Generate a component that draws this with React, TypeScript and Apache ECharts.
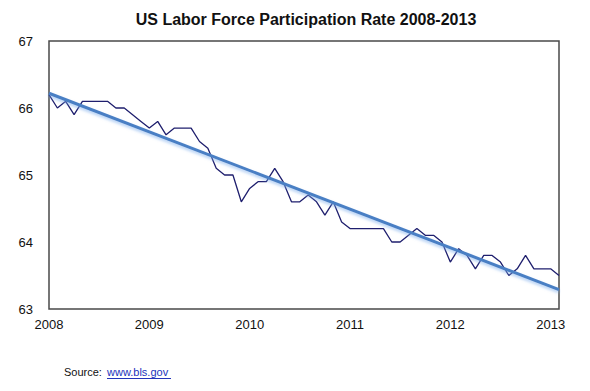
import React, { useEffect, useRef } from "react";
import * as echarts from "echarts";

const TITLE = "US Labor Force Participation Rate 2008-2013";
const START_YEAR = 2008;
// Monthly values, Jan 2008 .. Feb 2013 (month index 0..61)
const rateValues = [
  66.2, 66.0, 66.1, 65.9, 66.1, 66.1, 66.1, 66.1, 66.0, 66.0, 65.9, 65.8,
  65.7, 65.8, 65.6, 65.7, 65.7, 65.7, 65.5, 65.4, 65.1, 65.0, 65.0, 64.6,
  64.8, 64.9, 64.9, 65.1, 64.9, 64.6, 64.6, 64.7, 64.6, 64.4, 64.6, 64.3,
  64.2, 64.2, 64.2, 64.2, 64.2, 64.0, 64.0, 64.1, 64.2, 64.1, 64.1, 64.0,
  63.7, 63.9, 63.8, 63.6, 63.8, 63.8, 63.7, 63.5, 63.6, 63.8, 63.6, 63.6,
  63.6, 63.5,
];
// Trend line end points (month index, value)
const trendIndex = [0, 61];
const trendValues = [66.22, 63.29];
const yTicks = [63, 64, 65, 66, 67];

const FONT = "'Liberation Sans', Arial, Helvetica, sans-serif";

export default function App() {
  const ref = useRef<HTMLDivElement>(null);
  useEffect(() => {
    if (!ref.current) return;
    const chart = echarts.init(ref.current, undefined, { renderer: "svg" });
    chart.setOption({
      animation: false,
      backgroundColor: "#ffffff",
      grid: {
        left: 49,
        right: 31,
        top: 41,
        bottom: 82,
        show: true,
        borderColor: "#4a4a4a",
        borderWidth: 1.5,
        backgroundColor: "transparent",
      },
      xAxis: {
        type: "value",
        min: 0,
        max: rateValues.length - 1,
        interval: 12,
        axisLine: { show: false },
        axisTick: { show: false },
        splitLine: { show: false },
        axisLabel: {
          showMaxLabel: false,
          margin: 9,
          color: "#111",
          fontSize: 13,
          fontFamily: FONT,
          formatter: (v: number) => (v % 12 === 0 ? String(START_YEAR + v / 12) : ""),
        },
      },
      yAxis: {
        type: "value",
        min: yTicks[0],
        max: yTicks[yTicks.length - 1],
        interval: 1,
        axisLine: { show: false },
        axisTick: { show: false },
        splitLine: { show: false },
        axisLabel: {
          margin: 16,
          color: "#111",
          fontSize: 13,
          fontFamily: FONT,
        },
      },
      series: [
        {
          type: "line",
          data: rateValues.map((v, i) => [i, v]),
          symbol: "none",
          lineStyle: { color: "#1f1f6e", width: 1.3 },
          z: 2,
        },
        {
          type: "line",
          data: trendIndex.map((x, i) => [x, trendValues[i]]),
          symbol: "none",
          lineStyle: {
            color: "#4a7fc4",
            width: 3,
            shadowColor: "rgba(120,170,235,0.6)",
            shadowBlur: 3,
            shadowOffsetY: 2,
          },
          z: 3,
        },
      ],
      graphic: [
        {
          type: "text",
          x: 306,
          y: 19,
          style: {
            text: TITLE,
            font: `bold 16px ${FONT}`,
            fill: "#111",
            textAlign: "center",
            textVerticalAlign: "middle",
          },
        },
        {
          type: "text",
          x: 64,
          y: 372,
          style: {
            text: "Source: ",
            font: `11px ${FONT}`,
            fill: "#111",
            textAlign: "left",
            textVerticalAlign: "middle",
          },
        },
        {
          type: "text",
          x: 107,
          y: 372,
          style: {
            text: "www.bls.gov",
            font: `11px ${FONT}`,
            fill: "#2233bb",
            textAlign: "left",
            textVerticalAlign: "middle",
          },
        },
        {
          type: "line",
          shape: { x1: 107, y1: 378.5, x2: 171, y2: 378.5 },
          style: { stroke: "#2233bb", lineWidth: 1 },
        },
      ],
    });
    return () => chart.dispose();
  }, []);
  return <div ref={ref} style={{ width: 590, height: 391, margin: -8 }} />;
}
